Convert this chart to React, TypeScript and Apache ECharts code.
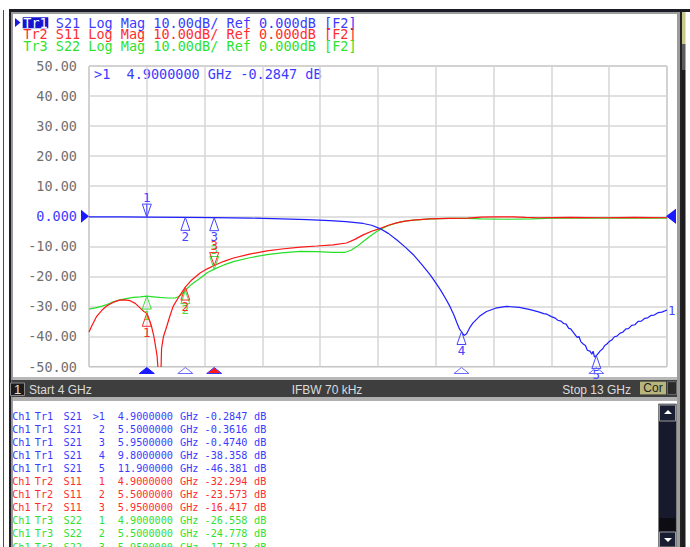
import { useEffect, useRef } from "react";
import * as echarts from "echarts";

// ---------- axis setup ----------
const X_MIN = 4; // GHz (Start)
const X_MAX = 13; // GHz (Stop)
const X_DIVS = 10;
const Y_MIN = -50;
const Y_MAX = 50;
const Y_STEP = 10;
const REF_LEVEL = 0;

const yTickValues = [50, 40, 30, 20, 10, 0, -10, -20, -30, -40, -50];
const yTickLabels = ["50.00", "40.00", "30.00", "20.00", "10.00", "0.000", "-10.00", "-20.00", "-30.00", "-40.00", "-50.00"];

// ---------- traces (GHz, dB) ----------
const s21: [number, number][] = [
  [4.0, -0.2], [4.5, -0.24], [4.9, -0.28], [5.5, -0.36], [5.95, -0.47], [6.5, -0.62], [7.0, -0.85],
  [7.4, -1.1], [7.75, -1.45], [8.0, -1.8], [8.27, -2.4], [8.4, -3.0], [8.53, -4.1], [8.66, -5.7],
  [8.79, -7.8], [8.92, -10.2], [9.05, -12.8], [9.18, -16.0], [9.31, -19.4], [9.4, -22.2], [9.47, -24.4],
  [9.55, -27.3], [9.62, -30.0], [9.68, -32.8], [9.73, -35.5], [9.77, -37.6], [9.8, -38.36], [9.84, -39.7],
  [9.88, -39.1], [9.93, -37.0], [9.98, -35.5], [10.08, -33.3], [10.19, -31.7], [10.33, -30.6], [10.5, -30.0],
  [10.7, -30.3], [10.87, -31.1], [11.0, -31.8], [11.08, -32.4], [11.13, -32.6], [11.2, -33.4], [11.26, -33.9],
  [11.3, -34.6], [11.35, -34.9], [11.39, -35.7], [11.43, -35.9], [11.47, -37.3], [11.5, -37.5], [11.55, -38.9],
  [11.6, -40.3], [11.63, -40.0], [11.66, -41.8], [11.7, -42.6], [11.73, -43.0], [11.76, -44.6], [11.8, -44.9],
  [11.83, -45.9], [11.85, -44.9], [11.87, -46.8], [11.9, -46.4], [11.93, -45.6], [11.96, -44.8], [12.0, -44.1],
  [12.03, -43.0], [12.06, -42.6], [12.1, -41.7], [12.14, -41.2], [12.18, -40.1], [12.22, -39.9], [12.27, -38.9],
  [12.31, -38.6], [12.36, -37.5], [12.4, -37.4], [12.45, -36.3], [12.5, -36.1], [12.55, -35.0], [12.6, -34.9],
  [12.65, -34.0], [12.7, -33.8], [12.75, -33.0], [12.8, -32.9], [12.86, -32.1], [12.92, -31.9], [13.0, -31.2],
];

const s11: [number, number][] = [
  [4.0, -38.5], [4.05, -36.2], [4.12, -33.3], [4.2, -31.3], [4.28, -29.8], [4.38, -28.6], [4.48, -27.9],
  [4.56, -27.8], [4.64, -28.1], [4.72, -29.0], [4.79, -30.4], [4.85, -31.6], [4.9, -32.3], [4.95, -35.0],
  [4.98, -37.2], [5.01, -40.0], [5.03, -42.5], [5.06, -46.5], [5.08, -52], [5.11, -58], [5.12, -52],
  [5.13, -44], [5.16, -40], [5.21, -36.7], [5.26, -33.2], [5.31, -30.0], [5.4, -26.8], [5.5, -23.6],
  [5.6, -21.2], [5.73, -18.9], [5.84, -17.5], [5.95, -16.4], [6.1, -15.0], [6.25, -13.9], [6.5, -12.6],
  [6.77, -11.5], [7.0, -10.9], [7.29, -10.3], [7.55, -9.9], [7.8, -9.5], [8.01, -8.9], [8.14, -7.7],
  [8.27, -6.2], [8.4, -5.0], [8.53, -4.1], [8.66, -3.0], [8.79, -2.2], [8.92, -1.6], [9.05, -1.3],
  [9.31, -0.9], [9.6, -0.7], [9.9, -0.6], [10.1, -0.3], [10.3, -0.2], [10.6, -0.2], [10.8, -0.4],
  [11.0, -0.5], [11.5, -0.4], [12.0, -0.5], [12.5, -0.4], [13.0, -0.5],
];

const s22: [number, number][] = [
  [4.0, -30.9], [4.1, -30.5], [4.2, -29.9], [4.28, -29.4], [4.38, -28.5], [4.48, -27.8], [4.58, -27.4],
  [4.69, -27.0], [4.8, -26.8], [4.9, -26.6], [5.0, -26.8], [5.1, -27.0], [5.22, -27.2], [5.34, -27.2],
  [5.4, -26.7], [5.44, -26.1], [5.48, -25.2], [5.52, -24.2], [5.6, -22.6], [5.73, -20.6], [5.84, -18.8],
  [5.95, -17.6], [6.1, -16.2], [6.25, -15.1], [6.5, -13.8], [6.77, -12.8], [7.0, -12.2], [7.29, -11.7],
  [7.55, -11.8], [7.8, -12.0], [7.99, -12.0], [8.08, -11.3], [8.17, -10.1], [8.27, -8.4], [8.38, -6.6],
  [8.48, -5.1], [8.58, -3.9], [8.68, -3.0], [8.79, -2.2], [8.92, -1.6], [9.05, -1.3], [9.31, -0.9],
  [9.6, -0.7], [9.9, -0.7], [10.1, -0.9], [10.5, -1.0], [10.9, -0.9], [11.2, -0.6], [11.6, -0.6],
  [12.0, -0.6], [12.5, -0.6], [13.0, -0.6],
];

// ---------- markers ----------
type Mk = { n: string; f: number; v: number; dir: "up" | "down"; active?: boolean };
const s21Markers: Mk[] = [
  { n: "1", f: 4.9, v: -0.2847, dir: "down", active: true },
  { n: "2", f: 5.5, v: -0.3616, dir: "up" },
  { n: "3", f: 5.95, v: -0.474, dir: "up" },
  { n: "4", f: 9.8, v: -38.358, dir: "up" },
  { n: "5", f: 11.9, v: -46.381, dir: "up" },
];
const s11Markers: Mk[] = [
  { n: "1", f: 4.9, v: -32.294, dir: "up" },
  { n: "2", f: 5.5, v: -23.573, dir: "up" },
  { n: "3", f: 5.95, v: -16.417, dir: "down" },
];
const s22Markers: Mk[] = [
  { n: "1", f: 4.9, v: -26.558, dir: "up" },
  { n: "2", f: 5.5, v: -24.778, dir: "up" },
  { n: "3", f: 5.95, v: -17.713, dir: "down" },
];

// stimulus-axis marker indicators
const axisIndicators = [
  { f: 4.9, kind: "blueFill" },
  { f: 5.5, kind: "blueHollow" },
  { f: 5.95, kind: "redFill" },
  { f: 9.8, kind: "blueHollow" },
  { f: 11.9, kind: "blueHollow" },
];

// ---------- marker table ----------
const tableRows: string[][] = [
  ["Tr1", "S21", ">1", "4.9000000", "-0.2847"],
  ["Tr1", "S21", "2", "5.5000000", "-0.3616"],
  ["Tr1", "S21", "3", "5.9500000", "-0.4740"],
  ["Tr1", "S21", "4", "9.8000000", "-38.358"],
  ["Tr1", "S21", "5", "11.900000", "-46.381"],
  ["Tr2", "S11", "1", "4.9000000", "-32.294"],
  ["Tr2", "S11", "2", "5.5000000", "-23.573"],
  ["Tr2", "S11", "3", "5.9500000", "-16.417"],
  ["Tr3", "S22", "1", "4.9000000", "-26.558"],
  ["Tr3", "S22", "2", "5.5000000", "-24.778"],
  ["Tr3", "S22", "3", "5.9500000", "-17.713"],
];

const headerLines = [
  { tr: "Tr1", rest: " S21 Log Mag 10.00dB/ Ref 0.000dB [F2]", key: "Tr1" },
  { tr: "Tr2", rest: " S11 Log Mag 10.00dB/ Ref 0.000dB [F2]", key: "Tr2" },
  { tr: "Tr3", rest: " S22 Log Mag 10.00dB/ Ref 0.000dB [F2]", key: "Tr3" },
];

const statusLeft = "Start 4 GHz";
const statusMid = "IFBW 70 kHz";
const statusRight = "Stop 13 GHz";

// ---------- styles ----------
const MONO = '"DejaVu Sans Mono", monospace';
const SANS = '"Liberation Sans", Arial, sans-serif';
const TRACE: Record<string, string> = { Tr1: "#1f1fff", Tr2: "#ff1414", Tr3: "#27de27" };
const TEXTC: Record<string, string> = { Tr1: "#3b3bff", Tr2: "#ff2e2e", Tr3: "#2fe22f" };
const MK_BLUE = "#4545ff";

function markerSeries(markers: Mk[], color: string, z: number) {
  return {
    type: "custom",
    coordinateSystem: "cartesian2d",
    xAxisIndex: 0,
    yAxisIndex: 0,
    silent: true,
    clip: false,
    z,
    data: markers.map((m) => [m.f, m.v]),
    encode: { x: 0, y: 1 },
    renderItem: (params: any, api: any) => {
      const m = markers[params.dataIndex];
      const p = api.coord([api.value(0), api.value(1)]);
      const x = p[0];
      const y = p[1];
      const hw = 4.5;
      const h = 13;
      const down = m.dir === "down";
      const pts = down
        ? [[x - hw, y - h], [x + hw, y - h], [x, y]]
        : [[x, y], [x + hw, y + h], [x - hw, y + h]];
      const children: any[] = [
        { type: "polygon", shape: { points: pts }, style: { fill: "rgba(255,255,255,0)", stroke: color, lineWidth: 1 } },
        {
          type: "text",
          x,
          y: down ? y - h - 7 : y + h + 6,
          style: { text: m.n, fill: color, fontSize: 12.5, fontFamily: MONO, align: "center", verticalAlign: "middle" },
        },
      ];
      if (m.active) {
        children.push({ type: "line", shape: { x1: x, y1: y - h, x2: x, y2: y }, style: { stroke: color, lineWidth: 1 } });
      }
      return { type: "group", children };
    },
  };
}

export default function App() {
  const ref = useRef<HTMLDivElement>(null);

  useEffect(() => {
    document.body.style.margin = "0";
    const chart = echarts.init(ref.current!, undefined, { renderer: "svg" });

    const graphics: any[] = [];
    // outer window frame
    graphics.push(
      { type: "rect", shape: { x: 3, y: 10, width: 1, height: 537 }, style: { fill: "#4a4a4a" } },
      { type: "rect", shape: { x: 9, y: 9, width: 681, height: 3 }, style: { fill: "#1b1c26" } },
      { type: "rect", shape: { x: 12, y: 12, width: 665, height: 2 }, style: { fill: "#9c9c9c" } },
      { type: "rect", shape: { x: 9, y: 9, width: 2.5, height: 538 }, style: { fill: "#1b1c26" } },
      { type: "rect", shape: { x: 11.5, y: 12, width: 1.5, height: 535 }, style: { fill: "#9c9c9c" } },
      { type: "rect", shape: { x: 677, y: 12, width: 3, height: 535 }, style: { fill: "#9c9c9c" } },
      { type: "rect", shape: { x: 680, y: 12, width: 2, height: 535 }, style: { fill: "#222222" } },
      { type: "rect", shape: { x: 682, y: 12, width: 3.5, height: 32 }, style: { fill: "#c8c88c" } },
      { type: "rect", shape: { x: 682, y: 44, width: 3.5, height: 26 }, style: { fill: "#5c5c5c" } },
      { type: "rect", shape: { x: 682, y: 70, width: 3.5, height: 477 }, style: { fill: "#1d1d1d" } },
      // separators & status bar
      { type: "rect", shape: { x: 13, y: 377, width: 664, height: 3 }, style: { fill: "#b8b8b8" } },
      { type: "rect", shape: { x: 11.5, y: 380, width: 665.5, height: 17 }, style: { fill: "#3e3e3e" } },
      { type: "rect", shape: { x: 13, y: 397, width: 664, height: 4 }, style: { fill: "#b0b0b0" } },
      { type: "rect", shape: { x: 10.5, y: 383, width: 14, height: 12.5 }, style: { fill: "#1c1c1c", stroke: "#8a8a8a", lineWidth: 1 } },
      { type: "text", x: 17.5, y: 389.5, style: { text: "1", fill: "#e0e0e0", fontSize: 13, fontFamily: SANS, align: "center", verticalAlign: "middle" } },
      { type: "text", x: 29, y: 389.5, style: { text: statusLeft, fill: "#dcdcdc", fontSize: 12, fontFamily: SANS, align: "left", verticalAlign: "middle" } },
      { type: "text", x: 327, y: 389.5, style: { text: statusMid, fill: "#dcdcdc", fontSize: 12, fontFamily: SANS, align: "center", verticalAlign: "middle" } },
      { type: "text", x: 631, y: 389.5, style: { text: statusRight, fill: "#dcdcdc", fontSize: 12, fontFamily: SANS, align: "right", verticalAlign: "middle" } },
      { type: "rect", shape: { x: 640, y: 381.7, width: 26, height: 12.7 }, style: { fill: "#b7b57b" } },
      { type: "text", x: 653, y: 388.2, style: { text: "Cor", fill: "#1e1e1e", fontSize: 12, fontFamily: SANS, align: "center", verticalAlign: "middle" } },
      { type: "rect", shape: { x: 667.5, y: 381.7, width: 9, height: 12.7 }, style: { fill: "#2b2b2b", stroke: "#6a6a6a", lineWidth: 1 } },
      // scrollbar
      { type: "rect", shape: { x: 658.5, y: 404, width: 18, height: 143 }, style: { fill: "#161a2c", stroke: "#7c7c7c", lineWidth: 1 } },
      { type: "rect", shape: { x: 659.5, y: 405, width: 16, height: 16 }, style: { fill: "#191d31", stroke: "#9a9a9a", lineWidth: 1 } },
      { type: "polygon", shape: { points: [[664, 414], [672, 414], [668, 410]] }, style: { fill: "#ffffff" } },
      { type: "rect", shape: { x: 659.5, y: 518, width: 16, height: 13 }, style: { fill: "#0c0c12" } },
      { type: "rect", shape: { x: 659.5, y: 532, width: 16, height: 15 }, style: { fill: "#191d31", stroke: "#9a9a9a", lineWidth: 1 } },
      { type: "polygon", shape: { points: [[664, 538], [672, 538], [668, 542]] }, style: { fill: "#ffffff" } }
    );

    // header lines
    const CW = 8.13;
    const headerY = [22.5, 34.2, 45.9];
    headerLines.forEach((h, i) => {
      const c = TEXTC[h.key];
      if (i === 0) {
        graphics.push(
          { type: "polygon", shape: { points: [[15, 18], [20.5, 22.5], [15, 27]] }, style: { fill: "#1a1ad8" } },
          { type: "rect", shape: { x: 22.7, y: 17.3, width: 25.6, height: 11 }, style: { fill: "#1515d0" } }
        );
      }
      graphics.push(
        { type: "text", x: 23.3, y: headerY[i], style: { text: h.tr, fill: i === 0 ? "#ffffff" : c, fontSize: 13.5, fontFamily: MONO, align: "left", verticalAlign: "middle" } },
        { type: "text", x: 23.3 + 3 * CW, y: headerY[i], style: { text: h.rest, fill: c, fontSize: 13.5, fontFamily: MONO, align: "left", verticalAlign: "middle" } }
      );
    });

    // active marker readout
    const r0 = tableRows[0];
    graphics.push({
      type: "text",
      x: 94,
      y: 74.2,
      style: { text: `${r0[2]}  ${r0[3]} GHz ${r0[4]} dB`, fill: TEXTC.Tr1, fontSize: 13.5, fontFamily: MONO, align: "left", verticalAlign: "middle" },
    });

    // marker table
    const rowY0 = 416;
    const rowH = 13.1;
    tableRows.forEach((r, i) => {
      const y = rowY0 + i * rowH;
      const c = TEXTC[r[0]];
      const st = (text: string, align: string) => ({ text, fill: c, fontSize: 10.2, fontFamily: MONO, align, verticalAlign: "middle" });
      graphics.push(
        { type: "text", x: 12.2, y, style: st("Ch1", "left") },
        { type: "text", x: 34.8, y, style: st(r[0], "left") },
        { type: "text", x: 63.5, y, style: st(r[1], "left") },
        { type: "text", x: 105, y, style: st(r[2], "right") },
        { type: "text", x: 173, y, style: st(r[3], "right") },
        { type: "text", x: 180, y, style: st("GHz", "left") },
        { type: "text", x: 247.5, y, style: st(r[4], "right") },
        { type: "text", x: 254, y, style: st("dB", "left") }
      );
    });

    const option: any = {
      animation: false,
      backgroundColor: "#ffffff",
      grid: { left: 89, top: 66, width: 578, height: 300.5, show: true, borderColor: "#8e8e8e", borderWidth: 1, backgroundColor: "transparent" },
      xAxis: [
        { type: "value", min: X_MIN, max: X_MAX, show: false },
        {
          type: "value",
          min: 0,
          max: X_DIVS,
          interval: 1,
          position: "bottom",
          axisLine: { show: false },
          axisTick: { show: false },
          axisLabel: { show: false },
          splitLine: { show: true, lineStyle: { color: "#d6d6d6", width: 1.5 } },
        },
      ],
      yAxis: {
        type: "value",
        min: Y_MIN,
        max: Y_MAX,
        interval: Y_STEP,
        axisLine: { show: false },
        axisTick: { show: false },
        splitLine: { show: true, lineStyle: { color: "#d6d6d6", width: 1.5 } },
        axisLabel: {
          margin: 12,
          fontFamily: MONO,
          fontSize: 13.5,
          color: "#707070",
          formatter: (v: number) => {
            const idx = yTickValues.indexOf(Math.round(v));
            const s = idx >= 0 ? yTickLabels[idx] : String(v);
            return Math.round(v) === REF_LEVEL ? `{ref|${s}}` : s;
          },
          rich: { ref: { color: TEXTC.Tr1, fontFamily: MONO, fontSize: 13.5 } },
        },
      },
      series: [
        { type: "line", name: "S22", data: s22, showSymbol: false, symbol: "none", lineStyle: { color: TRACE.Tr3, width: 1.2 }, z: 2 },
        { type: "line", name: "S11", data: s11, showSymbol: false, symbol: "none", lineStyle: { color: TRACE.Tr2, width: 1.2 }, z: 2 },
        {
          type: "line",
          name: "S21",
          data: s21,
          showSymbol: false,
          symbol: "none",
          lineStyle: { color: TRACE.Tr1, width: 1.2 },
          z: 2,
          endLabel: { show: true, formatter: "1", color: MK_BLUE, fontFamily: MONO, fontSize: 12.5, distance: 1 },
        },
        markerSeries(s22Markers, "#3ee03e", 4),
        markerSeries(s11Markers, "#ff2a2a", 5),
        markerSeries(s21Markers, MK_BLUE, 6),
        {
          type: "custom",
          coordinateSystem: "cartesian2d",
          silent: true,
          clip: false,
          z: 7,
          data: axisIndicators.map((a) => [a.f, Y_MIN]),
          encode: { x: 0, y: 1 },
          renderItem: (params: any, api: any) => {
            const a = axisIndicators[params.dataIndex];
            const p = api.coord([api.value(0), api.value(1)]);
            const x = p[0];
            const y = p[1];
            const pts = [[x, y + 1], [x + 7.5, y + 7], [x - 7.5, y + 7]];
            const fill = a.kind === "blueFill" ? "#1a1aff" : a.kind === "redFill" ? "#ff1a1a" : "rgba(255,255,255,0)";
            const stroke = a.kind === "redFill" ? "#3a3aff" : a.kind === "blueFill" ? "#1a1aff" : "#6a6aff";
            return { type: "polygon", shape: { points: pts }, style: { fill, stroke, lineWidth: 1 } };
          },
        },
        {
          type: "custom",
          coordinateSystem: "cartesian2d",
          silent: true,
          clip: false,
          z: 7,
          data: [[X_MIN, REF_LEVEL], [X_MAX, REF_LEVEL]],
          encode: { x: 0, y: 1 },
          renderItem: (params: any, api: any) => {
            const p = api.coord([api.value(0), api.value(1)]);
            const x = p[0];
            const y = p[1];
            if (params.dataIndex === 0) {
              return { type: "polygon", shape: { points: [[x - 8, y - 6.5], [x, y], [x - 8, y + 6.5]] }, style: { fill: "#1a1aff" } };
            }
            return {
              type: "group",
              children: [
                { type: "polygon", shape: { points: [[x + 9, y - 7.5], [x + 0.5, y], [x + 9, y + 7.5]] }, style: { fill: "#ff2020" } },
                { type: "polygon", shape: { points: [[x + 9, y - 7.5], [x - 1, y], [x + 9, y + 7.5]] }, style: { fill: "#1a1aff" } },
              ],
            };
          },
        },
      ],
      graphic: graphics,
    };

    chart.setOption(option);
    return () => chart.dispose();
  }, []);

  return <div ref={ref} style={{ position: "fixed", left: 0, top: 0, width: 690, height: 547 }} />;
}
